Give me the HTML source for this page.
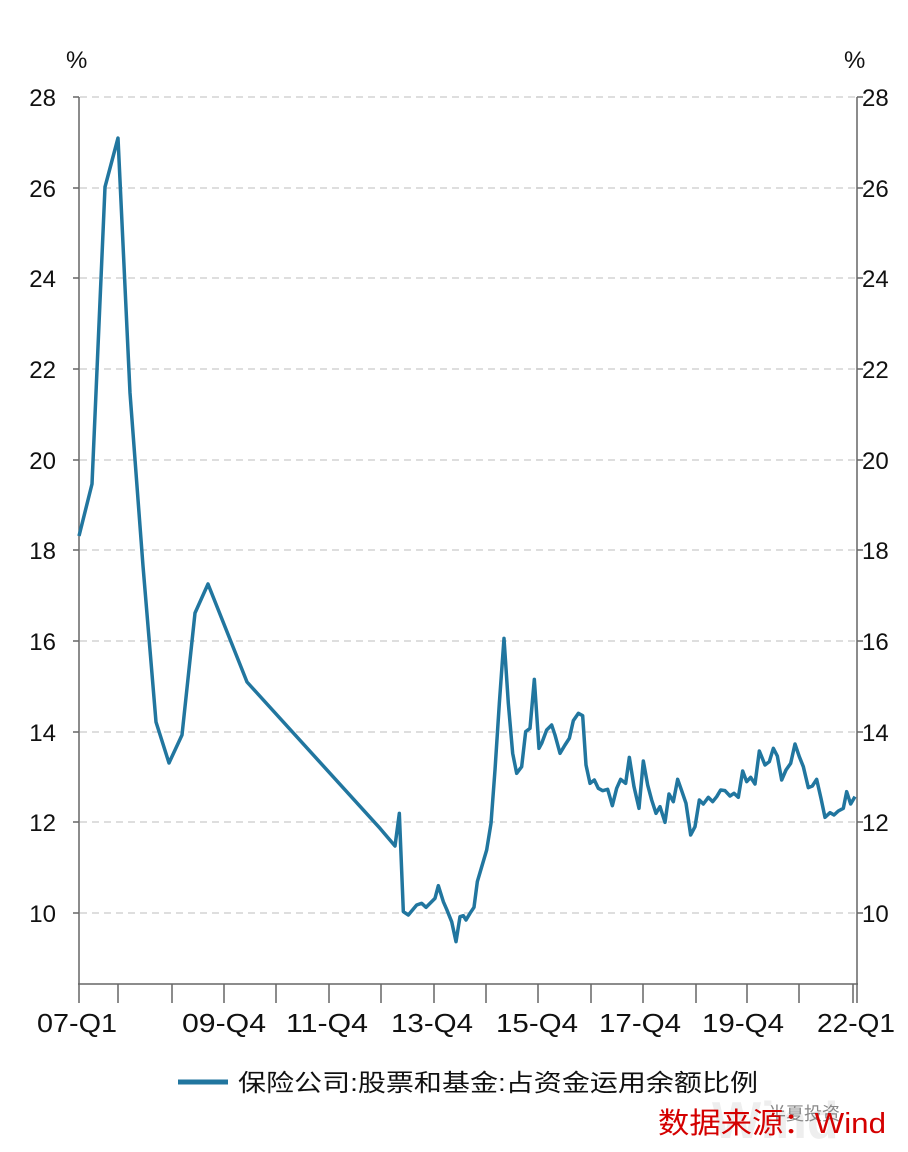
<!DOCTYPE html>
<html><head><meta charset="utf-8"><style>
body{margin:0;background:#fff;}
svg{display:block;font-family:"Liberation Sans","Noto Sans CJK SC",sans-serif;}
</style></head><body>
<svg width="908" height="1152" viewBox="0 0 908 1152" xmlns="http://www.w3.org/2000/svg">
<g stroke="#d4d4d4" stroke-width="1.5" stroke-dasharray="7,5">
<line x1="80" x2="856" y1="97" y2="97"/><line x1="80" x2="856" y1="188" y2="188"/><line x1="80" x2="856" y1="278" y2="278"/><line x1="80" x2="856" y1="369" y2="369"/><line x1="80" x2="856" y1="460" y2="460"/><line x1="80" x2="856" y1="550" y2="550"/><line x1="80" x2="856" y1="641" y2="641"/><line x1="80" x2="856" y1="732" y2="732"/><line x1="80" x2="856" y1="822" y2="822"/><line x1="80" x2="856" y1="913" y2="913"/>
</g>
<g stroke="#666" stroke-width="1.5" fill="none">
<line x1="79" y1="97" x2="79" y2="984"/><line x1="857" y1="97" x2="857" y2="984"/><line x1="78" y1="984" x2="858" y2="984"/>
<path d="M73 97H79M73 188H79M73 278H79M73 369H79M73 460H79M73 550H79M73 641H79M73 732H79M73 822H79M73 913H79"/>
<path d="M857 97H863M857 188H863M857 278H863M857 369H863M857 460H863M857 550H863M857 641H863M857 732H863M857 822H863M857 913H863"/>
<path d="M79 984V1003M118 984V1003M172 984V1003M224 984V1003M276 984V1003M329 984V1003M381 984V1003M434 984V1003M486 984V1003M538 984V1003M591 984V1003M643 984V1003M696 984V1003M747 984V1003M799 984V1003M853 984V1003M857 984V1003"/>
</g>
<g font-size="24" fill="#111" text-anchor="end">
<text x="56" y="106">28</text><text x="56" y="197">26</text><text x="56" y="287">24</text><text x="56" y="378">22</text><text x="56" y="469">20</text><text x="56" y="559">18</text><text x="56" y="650">16</text><text x="56" y="741">14</text><text x="56" y="831">12</text><text x="56" y="922">10</text>
</g>
<g font-size="24" fill="#111">
<text x="862" y="106">28</text><text x="862" y="197">26</text><text x="862" y="287">24</text><text x="862" y="378">22</text><text x="862" y="469">20</text><text x="862" y="559">18</text><text x="862" y="650">16</text><text x="862" y="741">14</text><text x="862" y="831">12</text><text x="862" y="922">10</text>
<text x="66" y="68">%</text><text x="844" y="68">%</text>
</g>
<g font-size="26" fill="#111" text-anchor="middle">
<text x="77" y="1032" textLength="80" lengthAdjust="spacingAndGlyphs">07-Q1</text>
<text x="224" y="1032" textLength="84" lengthAdjust="spacingAndGlyphs">09-Q4</text>
<text x="327" y="1032" textLength="82" lengthAdjust="spacingAndGlyphs">11-Q4</text>
<text x="432" y="1032" textLength="82" lengthAdjust="spacingAndGlyphs">13-Q4</text>
<text x="537" y="1032" textLength="82" lengthAdjust="spacingAndGlyphs">15-Q4</text>
<text x="640" y="1032" textLength="82" lengthAdjust="spacingAndGlyphs">17-Q4</text>
<text x="743" y="1032" textLength="82" lengthAdjust="spacingAndGlyphs">19-Q4</text>
<text x="856" y="1032" textLength="78" lengthAdjust="spacingAndGlyphs">22-Q1</text>
</g>
<g transform="translate(380,620) scale(0.33333)">
<path fill="none" stroke="#21769f" stroke-width="3.5" vector-effect="non-scaling-stroke" stroke-linejoin="round" d="M-903,-252 L-864,-408 L-825,-1299 L-786,-1446 L-750,-681 L-711,-162 L-672,306 L-633,429 L-594,345 L-555,-21 L-516,-108 L-399,186 L0,625 L45,678 L58,580 L70,875 L85,885 L110,855 L125,850 L138,862 L160,840 L165,835 L175,797 L190,845 L200,868 L215,905 L228,965 L240,890 L250,887 L258,900 L270,880 L282,862 L292,785 L320,690 L333,610 L345,450 L358,250 L372,55 L385,250 L398,400 L410,460 L425,440 L437,335 L450,325 L463,178 L477,385 L485,370 L500,330 L515,315 L525,345 L540,400 L555,375 L568,355 L580,302 L595,280 L608,287 L618,435 L630,490 L643,480 L655,505 L668,512 L683,508 L697,557 L710,505 L722,478 L737,490 L748,412 L762,500 L777,565 L790,423 L803,495 L815,540 L828,580 L840,560 L855,607 L867,522 L880,545 L893,478 L905,512 L918,550 L932,645 L945,620 L958,540 L970,552 L985,532 L998,545 L1010,530 L1022,510 L1035,512 L1050,528 L1062,520 L1075,532 L1088,453 L1100,485 L1112,472 L1125,492 L1138,393 L1155,435 L1168,425 L1180,385 L1192,408 L1205,480 L1218,450 L1232,430 L1245,372 L1258,410 L1270,440 L1285,503 L1297,498 L1310,478 L1323,535 L1335,592 L1350,578 L1362,585 L1375,573 L1390,565 L1400,515 L1412,552 L1425,530"/>
</g>
<line x1="178" y1="1082" x2="228" y2="1082" stroke="#21769f" stroke-width="5"/>
<text x="238" y="1091" font-size="24" fill="#111" textLength="520" lengthAdjust="spacingAndGlyphs">保险公司:股票和基金:占资金运用余额比例</text>
<text x="712" y="1138" font-size="52" fill="#eee" font-weight="bold">Wind</text>
<text x="768" y="1120" font-size="18" fill="#888">半夏投资</text>
<text x="658" y="1133" font-size="29" fill="#d40000" textLength="228" lengthAdjust="spacingAndGlyphs">数据来源：Wind</text>
</svg>
</body></html>
